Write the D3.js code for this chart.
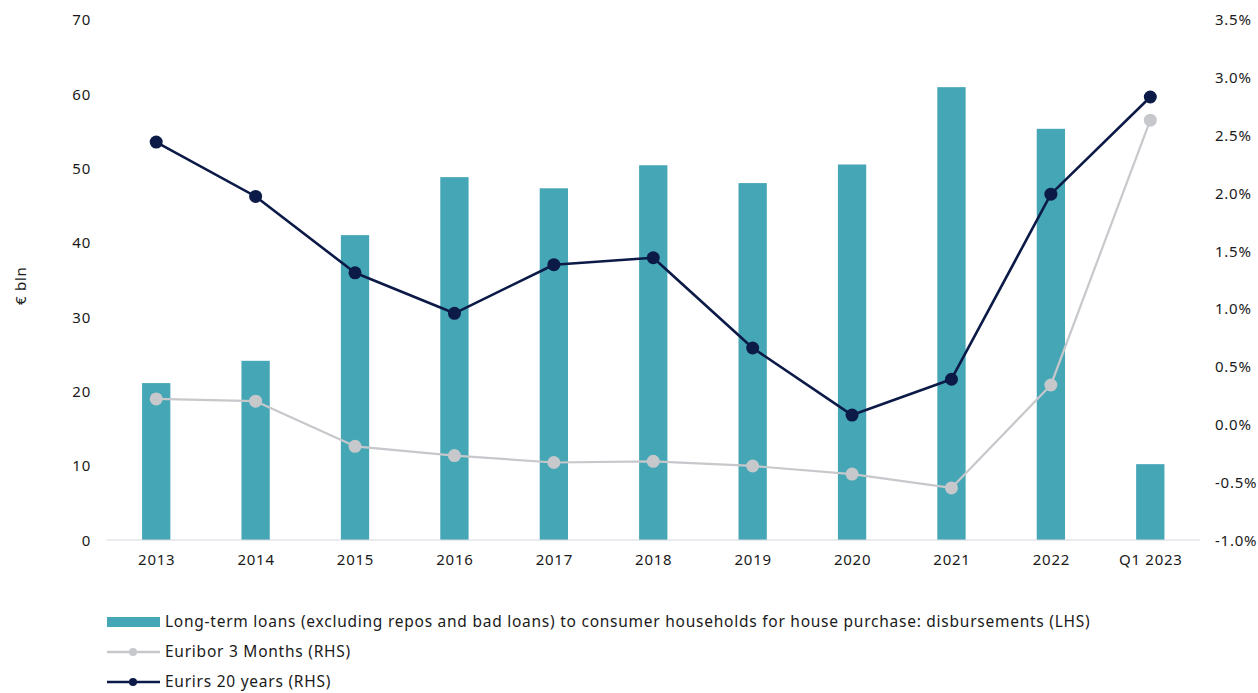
<!DOCTYPE html>
<html>
<head>
<meta charset="utf-8">
<script src="https://cdn.jsdelivr.net/npm/d3@7"></script>
<style>
  html, body { margin: 0; padding: 0; background: #ffffff; }
  svg { display: block; font-family: "Noto Sans", "Lato", sans-serif; letter-spacing: 0.75px; }
</style>
</head>
<body>
<svg id="chart" width="1258" height="693"></svg>
<script>
// Categories (x axis)
const categories = ["2013", "2014", "2015", "2016", "2017", "2018", "2019", "2020", "2021", "2022", "Q1 2023"];

// Long-term loans for house purchase, disbursements (€ bln, LHS)
const loans = [21.1, 24.1, 41.0, 48.8, 47.3, 50.4, 48.0, 50.5, 60.9, 55.3, 10.2];

// Euribor 3 months (%, RHS)
const euribor3m = [0.22, 0.20, -0.19, -0.27, -0.33, -0.32, -0.36, -0.43, -0.55, 0.34, 2.63];

// Eurirs 20 years (%, RHS)
const eurirs20y = [2.44, 1.97, 1.31, 0.96, 1.38, 1.44, 0.66, 0.08, 0.39, 1.99, 2.83];

// Axis ticks
const leftTicks = [0, 10, 20, 30, 40, 50, 60, 70];
const rightTicks = [-1.0, -0.5, 0.0, 0.5, 1.0, 1.5, 2.0, 2.5, 3.0, 3.5];

// Legend labels
const legendLabels = [
  "Long-term loans (excluding repos and bad loans) to consumer households for house purchase: disbursements (LHS)",
  "Euribor 3 Months (RHS)",
  "Eurirs 20 years (RHS)"
];

const colors = { bar: "#45A6B6", euribor: "#C6C8CB", eurirs: "#0B1A47", axis: "#D3D8DF", text: "#1a1a1a" };

const svg = d3.select("#chart");
const plot = { left: 106.5, right: 1200, top: 19.5, bottom: 540 };

const x = d3.scalePoint().domain(categories).range([plot.left, plot.right]).padding(0.5);
const yL = d3.scaleLinear().domain([0, 70]).range([plot.bottom, plot.top]);
const yR = d3.scaleLinear().domain([-1.0, 3.5]).range([plot.bottom, plot.top]);
const barW = 28.3;

// Left axis
const leftAxis = d3.axisLeft(yL).tickValues(leftTicks).tickSize(0).tickPadding(0).tickFormat(d3.format("d"));
const gL = svg.append("g").attr("transform", "translate(91,0)").call(leftAxis);
gL.select(".domain").remove();
gL.selectAll("text").attr("font-family", "Noto Sans").attr("font-size", 15).attr("fill", colors.text).attr("dy", "0.35em");

// Right axis
const rightAxis = d3.axisRight(yR).tickValues(rightTicks).tickSize(0).tickPadding(0)
  .tickFormat(d => d3.format(".1f")(d).replace("−", "-") + "%");
const gR = svg.append("g").attr("transform", "translate(1215,0)").call(rightAxis);
gR.select(".domain").remove();
gR.selectAll("text").attr("font-family", "Noto Sans").attr("font-size", 15).attr("fill", colors.text).attr("dy", "0.35em");

// Left axis title
svg.append("text")
  .attr("transform", `translate(26,${(plot.top + plot.bottom) / 2 + 6}) rotate(-90)`)
  .attr("text-anchor", "middle")
  .attr("font-size", 15)
  .attr("fill", colors.text)
  .text("€ bln");

// Bars
svg.append("g").selectAll("rect")
  .data(loans)
  .join("rect")
  .attr("x", (d, i) => x(categories[i]) - barW / 2)
  .attr("y", d => yL(d))
  .attr("width", barW)
  .attr("height", d => yL(0) - yL(d))
  .attr("fill", colors.bar);

// Baseline and category labels
const bottomAxis = d3.axisBottom(x).tickSize(0).tickPadding(14);
const gB = svg.append("g").attr("transform", `translate(0,${plot.bottom})`).call(bottomAxis);
gB.select(".domain").attr("stroke", colors.axis).attr("stroke-width", 1.2)
  .attr("d", `M${plot.left},0H${plot.right}`);
gB.selectAll("text").attr("font-family", "Noto Sans").attr("font-size", 15).attr("fill", colors.text);

// Rate lines
function drawSeries(values, color, width) {
  const line = d3.line().x((d, i) => x(categories[i])).y(d => yR(d));
  svg.append("path").datum(values)
    .attr("d", line)
    .attr("fill", "none")
    .attr("stroke", color)
    .attr("stroke-width", width)
    .attr("stroke-linejoin", "round");
  svg.append("g").selectAll("circle")
    .data(values)
    .join("circle")
    .attr("cx", (d, i) => x(categories[i]))
    .attr("cy", d => yR(d))
    .attr("r", 6.5)
    .attr("fill", color);
}
drawSeries(euribor3m, colors.euribor, 2.2);
drawSeries(eurirs20y, colors.eurirs, 2.6);

// Legend
const lg = svg.append("g");
const legendY = [622, 652, 682];
lg.append("rect").attr("x", 107).attr("y", legendY[0] - 5).attr("width", 53).attr("height", 10).attr("fill", colors.bar);
[[colors.euribor, 1], [colors.eurirs, 2]].forEach(([c, k]) => {
  lg.append("line").attr("x1", 107).attr("x2", 160).attr("y1", legendY[k]).attr("y2", legendY[k])
    .attr("stroke", c).attr("stroke-width", 2.4);
  lg.append("circle").attr("cx", 133).attr("cy", legendY[k]).attr("r", 4).attr("fill", c);
});
legendLabels.forEach((t, k) => {
  lg.append("text").attr("x", 165).attr("y", legendY[k]).attr("dy", "0.35em")
    .attr("font-size", 15.5).attr("fill", colors.text).text(t);
});
</script>
</body>
</html>
